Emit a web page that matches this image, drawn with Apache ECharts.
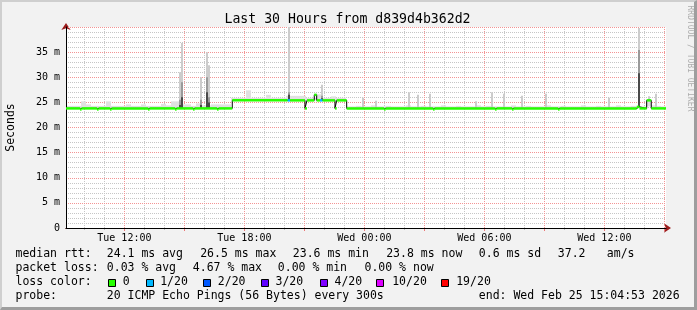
<!DOCTYPE html>
<html><head><meta charset="utf-8">
<script src="https://cdn.jsdelivr.net/npm/echarts@6/dist/echarts.min.js"></script>
<style>
html,body{margin:0;padding:0;background:#f2f2f2;}
#wrap{position:relative;width:697px;height:310px;overflow:hidden;}
#chart{position:absolute;left:0;top:0;width:697px;height:310px;}
#frame{position:absolute;left:0;top:0;width:697px;height:310px;box-sizing:border-box;border-top:2px solid #cfcfcf;border-left:2px solid #cfcfcf;border-right:3px solid #9e9e9e;border-bottom:3px solid #9e9e9e;pointer-events:none;}
</style></head>
<body><div id="wrap"><div id="chart"></div><div id="frame"></div></div>
<script>
// ---- time range (hours since Tue 00:00) ----
const T0 = 9 + 4/60 + 53/3600;   // Tue 09:04:53
const T1 = T0 + 30;              // Wed 15:04:53

// ---- median rtt (ms): level starting at medT[i] ----
const medT = [T0, 9.78, 9.863, 10.63, 10.713, 11.28, 11.363, 13.18, 13.263, 14.53, 14.613, 15.43, 15.513, 16.63, 16.713,
  17.395, 20.165, 20.285, 21.03, 21.13, 21.495, 21.615, 21.78, 21.91, 22.53, 22.615, 23.115,
  24.98, 25.063, 27.43, 27.513, 30.53, 30.613, 31.38, 31.463, 33.68, 33.763, 37.615, 37.755, 38.115, 38.345];
const medV = [23.8, 23.6, 23.8, 23.6, 23.8, 23.6, 23.8, 23.6, 23.8, 23.6, 23.8, 23.6, 23.8, 23.6, 23.8,
  25.4, 25.4, 25.4, 23.8, 25.4, 26.5, 25.4, 25.4, 25.4, 23.8, 25.4, 23.8,
  23.6, 23.8, 23.6, 23.8, 23.6, 23.8, 23.6, 23.8, 23.6, 23.8, 24.1, 23.8, 25.4, 23.8];
const medLoss = [0,0,0,0,0,0,0,0,0,0,0,0,0,0,0,
  0,1,0,0,0,0,0,1,0,0,0,0,
  0,0,0,0,0,0,0,0,0,0,0,0,0,0];

// ---- light smoke top per 15-minute bin (ms) ----
const smokeTop = [
  24.3,24.3,24.3,25.2,24.6,24.3,24.3,24.3,25.2,24.3,24.3,24.3,24.6,24.3,24.3,24.6,24.3,24.3,24.3,24.7,
  24.4,25.2,25.2,24.6,24.6,24.3,24.8,24.4,24.4,24.6,24.6,24.6,24.6,
  25.9,25.9,25.9,27.4,25.9,25.9,25.9,26.5,25.9,25.9,25.9,26.3,26.3,26.3,26.3,25.9,25.9,26.6,25.9,25.9,26.2,25.9,25.9,
  24.2,24.2,24.3,24.2,24.2,24.4,24.2,24.2,24.3,24.2,24.2,24.2,24.4,24.2,24.2,24.3,24.2,24.2,24.2,24.4,
  24.2,24.2,24.3,24.2,24.2,24.2,24.4,24.2,24.3,24.2,24.2,24.2,24.2,24.4,24.2,24.2,24.3,24.2,24.2,24.2,
  24.4,24.2,24.2,24.3,24.2,24.2,24.2,24.4,24.2,24.2,24.3,24.2,24.2,24.2,24.4,24.2,24.2,24.3,24.2,24.2,
  24.2,24.4,24.3,24.2];
const BIN = 0.25;

// ---- smoke spikes: time (h), light top, mid top, dark top (ms) ----
const spkT    = [14.805, 14.905, 15.83, 16.155, 16.23, 20.23, 21.88, 23.93, 24.58, 26.23, 26.68, 27.28, 29.58, 30.38, 30.98, 31.88, 33.08, 36.23, 37.715, 38.23, 38.58];
const spkHi   = [31.0, 36.8, 30.0, 35.0, 32.4, 40.0, 28.5, 25.9, 25.3, 27.0, 26.5, 26.7, 25.2, 27.0, 26.7, 26.3, 26.7, 25.9, 39.8, 26.2, 26.7];
const spkMid  = [25.5, 29.0, 25.5, 30.0, 26.0, 27.0, 26.3, 0, 0, 0, 0, 0, 0, 0, 0, 0, 0, 0, 35.4, 0, 0];
const spkDark = [24.5, 26.0, 24.5, 27.0, 25.0, 26.5, 25.8, 0, 0, 0, 0, 0, 0, 0, 0, 0, 0, 0, 30.8, 0, 0];

// ---- axis ticks (hours) ----
const minorFirst = 10, minorLast = 39, minorStep = 1;
const majorFirst = 12, majorLast = 39, majorStep = 3;
const labelHours = [12,18,24,30,36];
const labelTexts = ['Tue 12:00','Tue 18:00','Wed 00:00','Wed 06:00','Wed 12:00'];
const yMax = 40, yStep = 5, yMinorStep = 1;

// ---- legend ----
const lossNames  = ['0','1/20','2/20','3/20','4/20','10/20','19/20'];
const lossColors = ['#26ff00','#00b8ff','#0059ff','#5e00ff','#7e00ff','#dd00ff','#ff0000'];
const rttLine  = ['median rtt:','24.1 ms avg','26.5 ms max','23.6 ms min','23.8 ms now','0.6 ms sd','37.2','am/s'];
const lossLine = ['packet loss:','0.03 % avg','4.67 % max','0.00 % min','0.00 % now'];
const probeLine = ['probe:','20 ICMP Echo Pings (56 Bytes) every 300s','end: Wed Feb 25 15:04:53 2026'];
const titleText = 'Last 30 Hours from d839d4b362d2';

function medianAt(t){ let v = medV[0]; for (let i=0;i<medT.length;i++){ if (medT[i] <= t) v = medV[i]; else break; } return v; }

// plot geometry
const W = 697, PL = 66, PW = 600, PT = 27, PB = 82;
const xPix = (h) => PL + (h - T0) / (T1 - T0) * PW;

const MONO = '"DejaVu Sans Mono", monospace';
function txt(x, y, s, size, align, extra){
  align = align || 'left';
  return Object.assign({type:'text', x:x, y:y, silent:true, z:10,
    style:{text:s, font: size+'px '+MONO, fill:'#000', align:align, verticalAlign:'middle', textAlign:align, textVerticalAlign:'middle'}}, extra||{});
}

const graphics = [];
graphics.push(txt(347.5, 20, titleText, 13.2, 'center'));
graphics.push({type:'text', x:690, y:58.5, rotation:-Math.PI/2, silent:true, z:10,
  style:{text:'RRDTOOL / TOBI OETIKER', font:'8px '+MONO, fill:'#adadad', align:'center', verticalAlign:'middle', textAlign:'center', textVerticalAlign:'middle'}});
const L1 = 254.5, L2 = 268.3, L3 = 282.2, L4 = 295.8;
const rttX = [15.5, 106.8, 200.2, 292.8, 386.2, 478.8, 557.8, 606.8];
rttLine.forEach((s,i)=>graphics.push(txt(rttX[i], L1, s, 11.5)));
const lossX = [15.5, 106.8, 192.8, 277.8, 364.5];
lossLine.forEach((s,i)=>graphics.push(txt(lossX[i], L2, s, 11.5)));
graphics.push(txt(15.5, L3, 'loss color:', 11.5));
const boxX = [108.5, 146.5, 203.5, 261.5, 320.5, 376.5, 441.5];
const boxLabelX = [122.8, 160.2, 217.8, 275.5, 334.5, 392.2, 456.2];
lossNames.forEach((s,i)=>{
  graphics.push({type:'rect', silent:true, z:10, shape:{x:boxX[i], y:279.5, width:7, height:7}, style:{fill:lossColors[i], stroke:'#000', lineWidth:1}});
  graphics.push(txt(boxLabelX[i], L3, s, 11.5));
});
const probeX = [15.5, 106.8, 478.8];
probeLine.forEach((s,i)=>graphics.push(txt(probeX[i], L4, s, 11.5)));

const chart = echarts.init(document.getElementById('chart'), null, {renderer:'canvas'});
const gridDash = [1,1];
const labelFont = {fontFamily: MONO, fontSize: 10, color:'#000'};
const MINOR_C = '#c6c6c6', MAJOR_C = '#f39494', ARROW_C = '#9b1c1c';
const hidden = {show:false};

const option = {
  animation:false,
  backgroundColor:'#f2f2f2',
  grid:[
    {left:PL, right:W-PL-PW, top:PT, bottom:PB, show:true, backgroundColor:'#ffffff', borderWidth:0, containLabel:false, outerBoundsMode:'none'},
    {left:xPix(minorFirst), right:W-xPix(minorLast), top:PT, bottom:PB, show:false, containLabel:false, outerBoundsMode:'none'},
    {left:xPix(majorFirst), right:W-xPix(majorLast), top:PT, bottom:PB, show:false, containLabel:false, outerBoundsMode:'none'}
  ],
  xAxis:[
    {gridIndex:0, type:'value', position:'bottom', min:T0, max:T1, z:3,
      axisLine:{show:true, onZero:false, lineStyle:{color:'#000', width:1}}, axisTick:hidden, axisLabel:hidden, splitLine:hidden},
    {gridIndex:0, type:'value', position:'bottom', min:T0, max:T1, z:0,
      axisLine:{show:true, onZero:false, symbol:['none','arrow'], symbolSize:[7,7], symbolOffset:[0,5], lineStyle:{color:ARROW_C, width:1}}, axisTick:hidden, axisLabel:hidden, splitLine:hidden},
    {gridIndex:1, type:'value', position:'bottom', min:minorFirst, max:minorLast, interval:minorStep, z:0,
      axisLine:{show:false, onZero:false}, axisTick:{show:true, length:2, lineStyle:{color:'#bbbbbb'}}, axisLabel:hidden,
      splitLine:{show:true, lineStyle:{color:MINOR_C, type:gridDash}}},
    {gridIndex:2, type:'value', position:'bottom', min:majorFirst, max:majorLast, interval:majorStep, z:1,
      axisLine:{show:false, onZero:false}, axisTick:{show:true, length:3, lineStyle:{color:'#ee7777'}},
      axisLabel:{show:true, margin:5, showMinLabel:true, showMaxLabel:true, hideOverlap:false,
        formatter:(v)=>{ const k = labelHours.indexOf(Math.round(v)); return k>=0 ? labelTexts[k] : ''; }, ...labelFont},
      splitLine:{show:true, lineStyle:{color:MAJOR_C, type:gridDash}}}
  ],
  yAxis:[
    {gridIndex:0, type:'value', position:'left', min:0, max:yMax, interval:yMinorStep, z:0,
      axisLine:{show:false, onZero:false}, axisTick:hidden, axisLabel:hidden,
      splitLine:{show:true, lineStyle:{color:MINOR_C, type:gridDash}}},
    {gridIndex:0, type:'value', position:'left', min:0, max:yMax, interval:yStep, z:1,
      name:'Seconds', nameLocation:'middle', nameGap:49, nameRotate:90, nameTextStyle:{fontFamily:MONO, fontSize:11.5, color:'#000'},
      axisLine:hidden, axisTick:hidden,
      axisLabel:{margin:6, formatter:(v)=> v===0 ? '0' : (v>=yMax ? '' : v+' m'), ...labelFont},
      splitLine:{show:true, lineStyle:{color:MAJOR_C, type:gridDash}}},
    {gridIndex:0, type:'value', position:'left', min:0, max:yMax, z:3,
      axisLine:{show:true, onZero:false, lineStyle:{color:'#000', width:1}}, axisTick:hidden, axisLabel:hidden, splitLine:hidden},
    {gridIndex:0, type:'value', position:'left', min:0, max:yMax, z:0,
      axisLine:{show:true, onZero:false, symbol:['none','arrow'], symbolSize:[7,7], symbolOffset:[0,4], lineStyle:{color:ARROW_C, width:1}}, axisTick:hidden, axisLabel:hidden, splitLine:hidden},
    {gridIndex:1, type:'value', show:false, min:0, max:1},
    {gridIndex:2, type:'value', show:false, min:0, max:1}
  ],
  series:[
    { // light smoke band
      type:'custom', xAxisIndex:0, yAxisIndex:1, z:2, silent:true, clip:true,
      data: smokeTop.map((top,i)=>[T0+i*BIN, T0+(i+1)*BIN, medianAt(T0+(i+0.5)*BIN), top]),
      renderItem:(params, api)=>{
        const a = api.coord([api.value(0), api.value(3)]);
        const b = api.coord([api.value(1), api.value(2)]);
        return {type:'rect', shape:{x:a[0], y:a[1], width:b[0]-a[0], height:b[1]-a[1]}, style:{fill:'#e0e0e0'}};
      }
    },
    { // smoke spikes
      type:'custom', xAxisIndex:0, yAxisIndex:1, z:3, silent:true, clip:true,
      data: spkT.map((t,i)=>[t, medianAt(t), spkHi[i], spkMid[i], spkDark[i]]),
      renderItem:(params, api)=>{
        const t = api.value(0), base = api.value(1);
        const layers = [[api.value(2),'#cccccc'],[api.value(3),'#9a9a9a'],[api.value(4),'#4a4a4a']];
        const children = [];
        layers.forEach(([top,col])=>{
          if (top > base) {
            const p = api.coord([t, top]); const q = api.coord([t, base]);
            const x = Math.round(p[0]) - 1;
            children.push({type:'rect', shape:{x:x, y:p[1], width:2, height:q[1]-p[1]}, style:{fill:col}});
          }
        });
        return {type:'group', children};
      }
    },
    { // dark median (shows the vertical steps)
      type:'line', xAxisIndex:0, yAxisIndex:1, z:4, step:'end', symbol:'none', silent:true,
      data: medT.map((t,i)=>[t, medV[i]]).concat([[T1, medV[medV.length-1]]]),
      lineStyle:{color:'#000', width:1}
    },
    { // loss coloured median
      type:'custom', xAxisIndex:0, yAxisIndex:1, z:6, silent:true, clip:true,
      data: medT.map((t,i)=>[t, i<medT.length-1 ? medT[i+1] : T1, medV[i], medLoss[i]]),
      renderItem:(params, api)=>{
        const a = api.coord([api.value(0), api.value(2)]);
        const b = api.coord([api.value(1), api.value(2)]);
        return {type:'line', shape:{x1:a[0], y1:a[1], x2:b[0], y2:b[1]}, style:{stroke:lossColors[api.value(3)], lineWidth:2.5, lineCap:'butt'}};
      }
    }
  ],
  graphic: graphics
};
chart.setOption(option);
</script>
</body></html>
